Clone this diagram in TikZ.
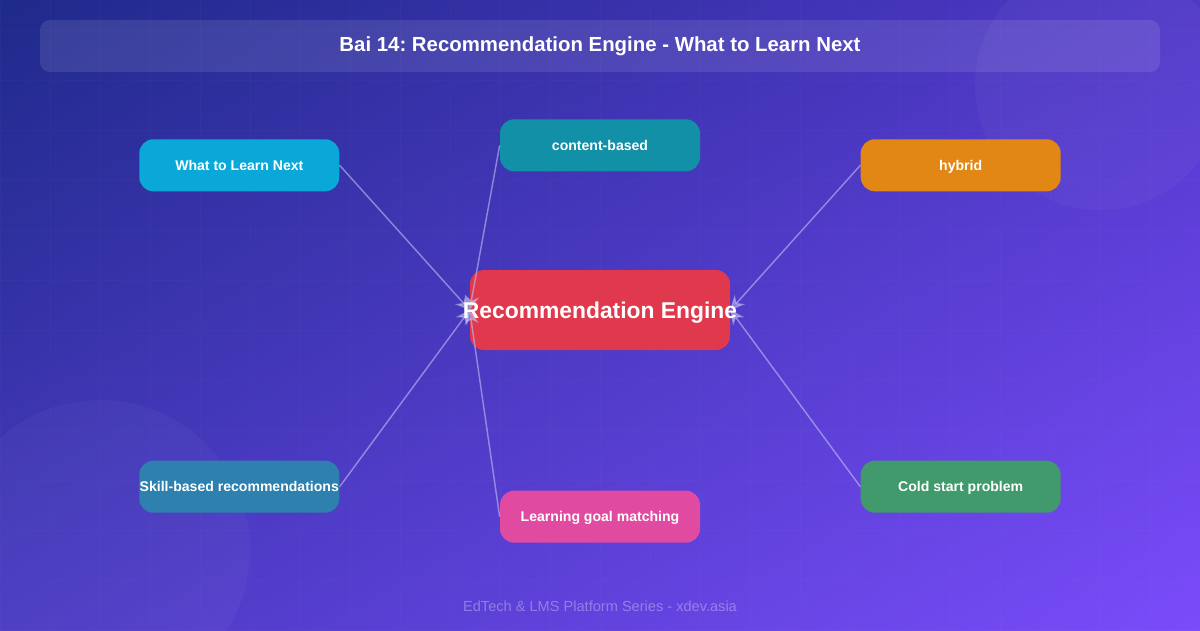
\documentclass[tikz,border=0pt]{standalone}
\usepackage{fontspec}
\setmainfont{Liberation Sans}
\frenchspacing
\definecolor{bgdeep}{HTML}{1E2A8A}
\definecolor{bgtopright}{HTML}{5038C8}
\definecolor{bgbotleft}{HTML}{4A3AC2}
\definecolor{bgviolet}{HTML}{7A4CFA}
\definecolor{hubred}{HTML}{E0384C}
\definecolor{learnblue}{HTML}{0AA8D8}
\definecolor{contentteal}{HTML}{1190A8}
\definecolor{hybridorange}{HTML}{E28714}
\definecolor{skillsteel}{HTML}{2E80AE}
\definecolor{goalpink}{HTML}{E04AA0}
\definecolor{coldgreen}{HTML}{409A6B}
\definecolor{linklav}{HTML}{C4C0F5}
\usepackage{tikz}
\usetikzlibrary{arrows.meta, positioning, shadings}
\tikzset{
  topicbox/.style={rounded corners=8pt, minimum width=4cm, minimum height=1.04cm,
                   inner xsep=0pt, font=\fontsize{8}{10}\selectfont\bfseries,
                   text height=5.8pt, text depth=0pt,
                   text=white, align=center},
  hubbox/.style={fill=hubred, rounded corners=0.28cm,
                 minimum width=5.2cm, minimum height=1.6cm},
  hubtext/.style={font=\fontsize{13}{15}\selectfont\bfseries, text=white, inner sep=0pt},
  link/.style={-{Stealth[length=8pt, width=8pt]}, line width=0.85pt,
               draw=linklav, draw opacity=0.55, fill=linklav, fill opacity=0.5},
  gridline/.style={white, opacity=0.02, line width=0.5pt},
}

\begin{document}
\begin{tikzpicture}

  %% ── Backdrop ─────────────────────────────────────────────────────────────

  \shade[upper left=bgdeep, upper right=bgtopright,
         lower left=bgbotleft, lower right=bgviolet]
    (0,0) rectangle (24,12.6);
  \useasboundingbox (0,0) rectangle (24,12.6);
  \draw[gridline] (0,0) grid[step=1cm] (24,12.6);
  \fill[white, opacity=0.03] (2,1.6) circle (3);
  \fill[white, opacity=0.035] (22,10.9) circle (2.5);

  % title bar
  \fill[white, opacity=0.1, rounded corners=0.2cm] (0.8,11.16) rectangle (23.2,12.2);
  \node[font=\fontsize{11.6}{13}\selectfont\bfseries, text=white] (title) at (12,11.68)
    {Bai 14: Recommendation Engine - What to Learn Next};

  %% ── Hub and topics ───────────────────────────────────────────────────────

  \node[hubbox] (hub) at (12,6.4) {};

  \node[topicbox, fill=learnblue, above left=1.56cm and 2.6cm of hub]
    (learn) {What to Learn Next};
  \node[topicbox, fill=contentteal, above=1.96cm of hub]
    (content) {content-based};
  \node[topicbox, fill=hybridorange, above right=1.56cm and 2.6cm of hub]
    (hybrid) {hybrid};
  \node[topicbox, fill=skillsteel, below left=2.2cm and 2.6cm of hub]
    (skill) {Skill-based recommendations};
  \node[topicbox, fill=goalpink, below=2.8cm of hub]
    (goal) {Learning goal matching};
  \node[topicbox, fill=coldgreen, below right=2.2cm and 2.6cm of hub]
    (cold) {Cold start problem};

  % links into the hub
  \draw[link] (learn.east) -- (hub.west);
  \draw[link] (content.west) -- (hub.west);
  \draw[link] (skill.east) -- (hub.west);
  \draw[link] (goal.west) -- (hub.west);
  \draw[link] (hybrid.west) -- (hub.east);
  \draw[link] (cold.west) -- (hub.east);

  \node[hubtext, yshift=-0.05cm] (hublabel) at (hub) {Recommendation Engine};

  %% ── Footer ───────────────────────────────────────────────────────────────

  \node[font=\fontsize{8.3}{10}\selectfont, text=white, text opacity=0.32]
    (footer) at (12,0.48) {EdTech \& LMS Platform Series - xdev.asia};

\end{tikzpicture}
\end{document}
